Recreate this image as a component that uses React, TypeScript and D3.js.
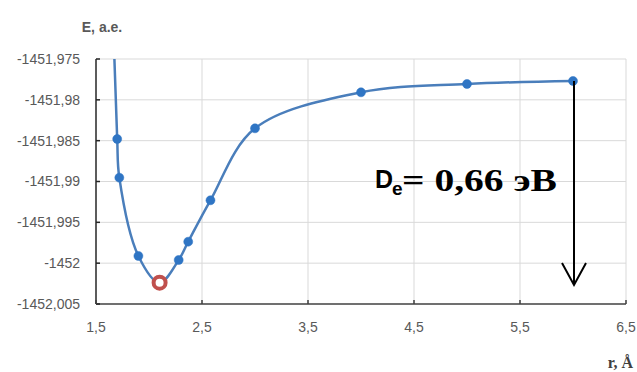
import React from "react";
import * as d3 from "d3";

const rValues = [1.65, 1.7, 1.72, 1.9, 2.1, 2.28, 2.37, 2.58, 3.0, 4.0, 5.0, 6.0];
const eValues = [
  -1451.965, -1451.9848, -1451.98953, -1451.99912, -1452.00239, -1451.99961,
  -1451.99737, -1451.9923, -1451.98349, -1451.97908, -1451.97806, -1451.97769,
];
const minIndex = 4; // highlighted equilibrium point
const firstVisibleMarker = 1;

const xTicks = [1.5, 2.5, 3.5, 4.5, 5.5, 6.5];
const xTickLabels = ["1,5", "2,5", "3,5", "4,5", "5,5", "6,5"];
const yTicks = [-1451.975, -1451.98, -1451.985, -1451.99, -1451.995, -1452, -1452.005];
const yTickLabels = ["-1451,975", "-1451,98", "-1451,985", "-1451,99", "-1451,995", "-1452", "-1452,005"];

const yTitle = "E, a.e.";
const xTitle = "r, Å";
const annotationMain = "D";
const annotationSub = "e";
const annotationRest = "= 0,66 эВ";

const W = 637;
const H = 372;
const plot = { left: 96, right: 626, top: 59, bottom: 304 };

export default function App() {
  const x = d3.scaleLinear().domain([1.5, 6.5]).range([plot.left, plot.right]);
  const y = d3.scaleLinear().domain([-1451.975, -1452.005]).range([plot.top, plot.bottom]);

  const pts = rValues.map((r, i) => [r, eValues[i]] as [number, number]);
  const line = d3
    .line<[number, number]>()
    .x((d) => x(d[0]))
    .y((d) => y(d[1]))
    .curve(d3.curveCatmullRom.alpha(0.5));
  const path = line(pts) || "";

  const lastX = x(rValues[rValues.length - 1]);
  const lastY = y(eValues[eValues.length - 1]);
  const arrowBottom = 285;

  return (
    <svg
      width={W}
      height={H}
      style={{ position: "absolute", left: 0, top: 0, background: "#fff" }}
    >
      <defs>
        <clipPath id="plotClip">
          <rect x={plot.left} y={plot.top} width={plot.right - plot.left} height={plot.bottom - plot.top} />
        </clipPath>
      </defs>
      <rect x={0} y={0} width={W} height={H} fill="#fff" />

      {/* grid */}
      {yTicks.slice(0, -1).map((t) => (
        <line key={"gy" + t} x1={plot.left} x2={plot.right} y1={y(t)} y2={y(t)} stroke="#d9d9d9" strokeWidth={1} />
      ))}
      {xTicks.slice(1).map((t) => (
        <line key={"gx" + t} x1={x(t)} x2={x(t)} y1={plot.top} y2={plot.bottom} stroke="#d9d9d9" strokeWidth={1} />
      ))}

      {/* axes */}
      <line x1={plot.left} x2={plot.left} y1={plot.top} y2={plot.bottom} stroke="#262626" strokeWidth={1.5} />
      <line x1={plot.left} x2={plot.right} y1={plot.bottom} y2={plot.bottom} stroke="#404040" strokeWidth={1.5} />
      {yTicks.map((t) => (
        <line key={"ty" + t} x1={plot.left} x2={plot.left + 4} y1={y(t)} y2={y(t)} stroke="#262626" strokeWidth={1.5} />
      ))}
      {xTicks.map((t) => (
        <line key={"tx" + t} x1={x(t)} x2={x(t)} y1={plot.bottom} y2={plot.bottom - 4} stroke="#404040" strokeWidth={1.5} />
      ))}

      {/* tick labels */}
      {yTicks.map((t, i) => (
        <text
          key={"ly" + t}
          x={80}
          y={y(t)}
          dy="0.35em"
          textAnchor="end"
          fontFamily="'Liberation Sans', Arial, sans-serif"
          fontSize={14}
          fill="#595959"
        >
          {yTickLabels[i]}
        </text>
      ))}
      {xTicks.map((t, i) => (
        <text
          key={"lx" + t}
          x={x(t)}
          y={332}
          textAnchor="middle"
          fontFamily="'Liberation Sans', Arial, sans-serif"
          fontSize={14}
          fill="#595959"
        >
          {xTickLabels[i]}
        </text>
      ))}

      {/* axis titles */}
      <text x={102} y={32} textAnchor="middle" fontFamily="'Liberation Sans', Arial, sans-serif" fontSize={14} fontWeight="bold" fill="#595959">
        {yTitle}
      </text>
      <text x={633} y={368} textAnchor="end" fontFamily="'Liberation Serif', 'Times New Roman', serif" fontSize={16} fontWeight="bold" fill="#404040">
        {xTitle}
      </text>

      {/* curve */}
      <g clipPath="url(#plotClip)">
        <path d={path} fill="none" stroke="#4a7ebb" strokeWidth={2.5} />
      </g>
      {pts.map((p, i) =>
        i >= firstVisibleMarker && i !== minIndex ? (
          <circle key={"m" + i} cx={x(p[0])} cy={y(p[1])} r={4.5} fill="#2f75c4" stroke="#2f75c4" strokeWidth={0.5} />
        ) : null
      )}
      <circle cx={x(rValues[minIndex])} cy={y(eValues[minIndex])} r={6} fill="#fff" stroke="#c0504d" strokeWidth={4} />

      {/* arrow */}
      <line x1={lastX + 1} x2={lastX + 1} y1={lastY} y2={arrowBottom} stroke="#000" strokeWidth={2} />
      <polyline
        points={`${lastX - 11},${arrowBottom - 22} ${lastX + 1},${arrowBottom} ${lastX + 13},${arrowBottom - 22}`}
        fill="none"
        stroke="#000"
        strokeWidth={2}
      />

      {/* annotation */}
      <text x={375} y={188} fontFamily="'Liberation Sans', Arial, sans-serif" fontSize={25} fontWeight="bold" fill="#000">
        {annotationMain}
      </text>
      <text x={392} y={195} fontFamily="'Liberation Sans', Arial, sans-serif" fontSize={19} fontWeight="bold" fill="#000">
        {annotationSub}
      </text>
      <text
        x={402}
        y={191}
        fontFamily="'Liberation Serif', 'Times New Roman', serif"
        fontSize={31}
        fontWeight="bold"
        fill="#000"
        textLength={155}
        lengthAdjust="spacingAndGlyphs"
      >
        {annotationRest}
      </text>
    </svg>
  );
}
